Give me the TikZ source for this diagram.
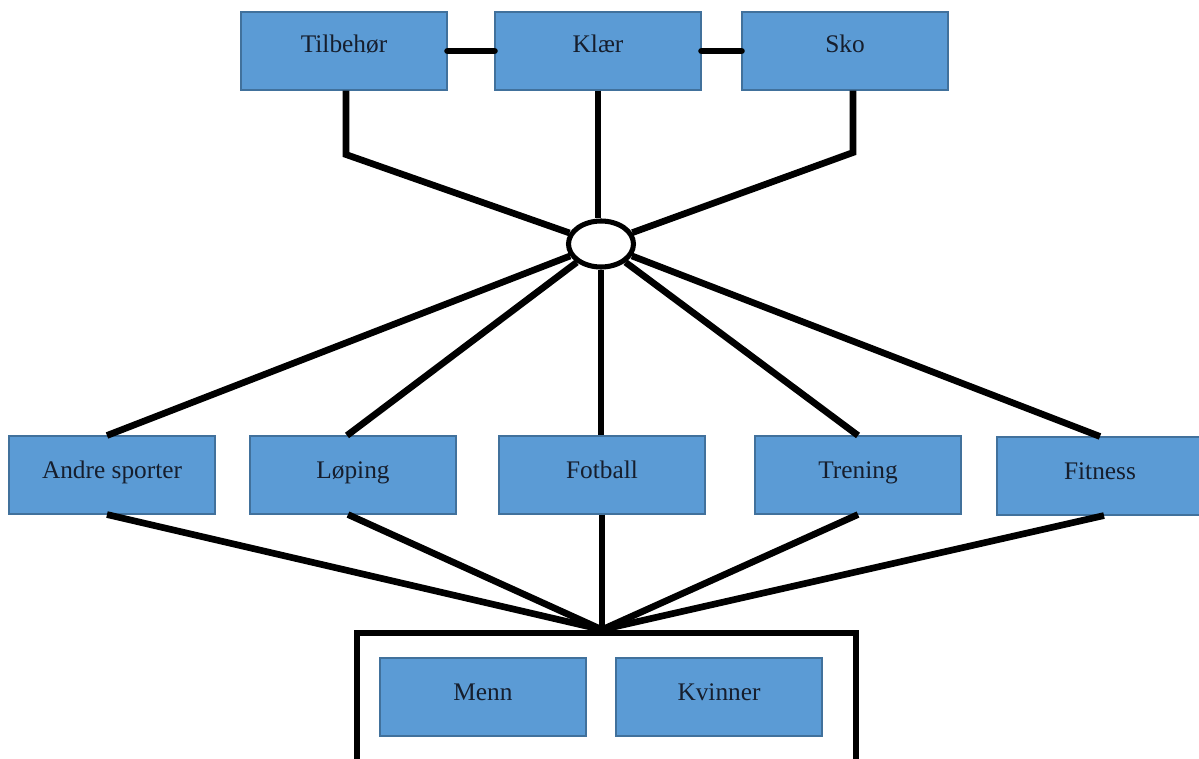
\documentclass[tikz,border=0pt]{standalone}
\usepackage{fontspec}
\setmainfont{Liberation Serif}
\usetikzlibrary{shapes.geometric}
\definecolor{boxfill}{RGB}{91,155,213}
\definecolor{boxedge}{RGB}{65,113,156}
\definecolor{ink}{RGB}{22,30,45}
\begin{document}
\begin{tikzpicture}[x=0.75pt, y=-0.75pt,
  cat/.style={draw=boxedge, line width=0.8pt, fill=boxfill, text=ink,
    minimum width=154.5pt, minimum height=58.5pt, inner sep=0pt,
    font=\fontsize{19}{23}\selectfont, text height=0.7em, text depth=0.12em},
  topcat/.style={cat, text depth=0.44em},
  link/.style={line width=5pt, black},
  hubstyle/.style={ellipse, draw, line width=3.8pt, fill=white,
    minimum width=48.75pt, minimum height=34.5pt, inner sep=0pt},
  group/.style={draw, line width=5pt, minimum width=374.25pt,
    minimum height=125.25pt, inner sep=0pt}]
  \fill[white] (0,0) rectangle (1199,758);
  \useasboundingbox (0,0) rectangle (1199,758);

  % product categories
  \node[topcat] (tilb)  at (344,51) {Tilbehør};
  \node[topcat] (klaer) at (598,51) {Klær};
  \node[topcat] (sko)   at (845,51) {Sko};

  % central hub
  \node[hubstyle] (hub) at (601,244) {};

  % sports
  \node[cat] (andre)   at (112,475) {Andre sporter};
  \node[cat] (loping)  at (353,475) {Løping};
  \node[cat] (fotball) at (602,475) {Fotball};
  \node[cat] (trening) at (858,475) {Trening};
  \node[cat] (fitness) at (1100,476) {Fitness};

  % target groups
  \node[group] (grp) at (606.5,716.5) {};
  \node[cat] (menn)    at (483,697) {Menn};
  \node[cat] (kvinner) at (719,697) {Kvinner};
  \coordinate (join) at (fotball.south |- grp.north);

  % links between the top categories
  \draw[link, line cap=round] (tilb.east) -- (klaer.west);
  \draw[link, line cap=round] (klaer.east) -- (sko.west);

  % top categories to hub
  \draw[link] ([xshift=1.5pt]tilb.south) -- ++(0,64) -- (hub);
  \draw[link] (klaer.south) -- (klaer.south |- hub.north);
  \draw[link] ([xshift=6pt]sko.south) -- ++(0,62) -- (hub);

  % hub to sports
  \draw[link] (hub) -- ([xshift=-3.75pt]andre.north);
  \draw[link] (hub) -- ([xshift=-4.5pt]loping.north);
  \draw[link] (hub.south) -- (hub.south |- fotball.north);
  \draw[link] (hub) -- (trening.north);
  \draw[link] (hub) -- (fitness.north);

  % sports to target groups
  \draw[link] ([xshift=-3.75pt]andre.south) -- (join);
  \draw[link] ([xshift=-3.75pt]loping.south) -- (join);
  \draw[link] (fotball.south) -- (join);
  \draw[link] (trening.south) -- (join);
  \draw[link] ([xshift=3pt]fitness.south) -- (join);
\end{tikzpicture}
\end{document}
